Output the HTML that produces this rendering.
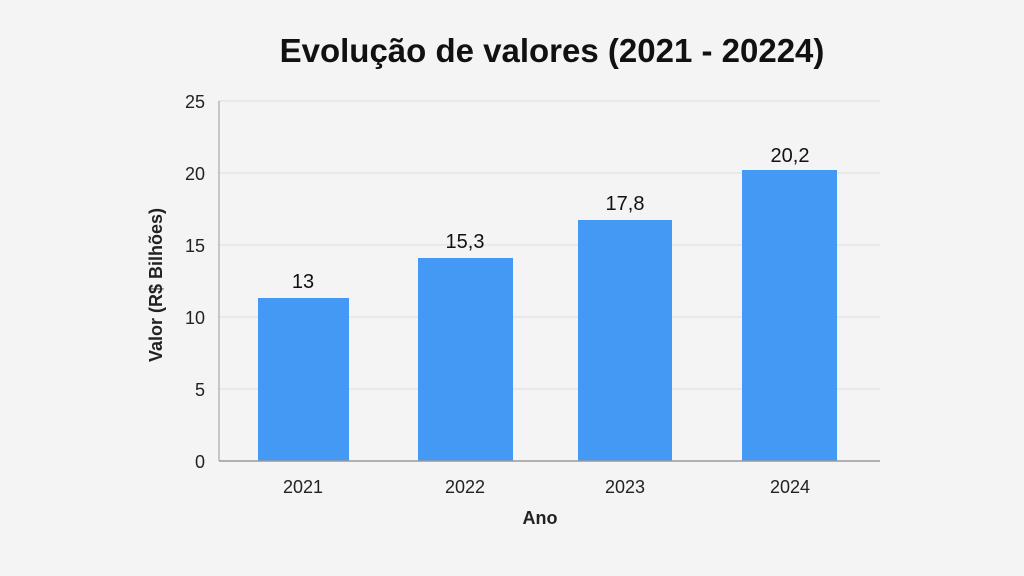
<!DOCTYPE html>
<html><head><meta charset="utf-8"><style>
html,body{margin:0;padding:0;background:#f4f4f4;}
</style></head><body>
<svg width="1024" height="576" xmlns="http://www.w3.org/2000/svg" style="display:block">
<rect width="1024" height="576" fill="#f4f4f4"/>
<text x="552" y="62" text-anchor="middle" font-family="Liberation Sans, sans-serif" font-weight="bold" font-size="33" fill="#111">Evolução de valores (2021 - 20224)</text>
<g stroke="#dedede" stroke-width="1">
<line x1="219" y1="101" x2="880" y2="101"/>
<line x1="219" y1="173" x2="880" y2="173"/>
<line x1="219" y1="245" x2="880" y2="245"/>
<line x1="219" y1="317" x2="880" y2="317"/>
<line x1="219" y1="389" x2="880" y2="389"/>
</g>
<line x1="219" y1="101" x2="219" y2="461" stroke="#999" stroke-width="1"/>
<g font-family="Liberation Sans, sans-serif" font-size="18" fill="#222" text-anchor="end">
<text x="205" y="108">25</text>
<text x="205" y="180">20</text>
<text x="205" y="252">15</text>
<text x="205" y="324">10</text>
<text x="205" y="396">5</text>
<text x="205" y="468">0</text>
</g>
<g fill="#4499f5">
<rect x="258" y="298" width="91" height="163"/>
<rect x="418" y="258" width="95" height="203"/>
<rect x="578" y="220" width="94" height="241"/>
<rect x="742" y="170" width="95" height="291"/>
</g>
<line x1="219" y1="461" x2="880" y2="461" stroke="#999" stroke-width="1.5"/>
<g font-family="Liberation Sans, sans-serif" font-size="20" fill="#111" text-anchor="middle">
<text x="303" y="288">13</text>
<text x="465" y="248">15,3</text>
<text x="625" y="210">17,8</text>
<text x="790" y="162">20,2</text>
</g>
<g font-family="Liberation Sans, sans-serif" font-size="18" fill="#222" text-anchor="middle">
<text x="303" y="493">2021</text>
<text x="465" y="493">2022</text>
<text x="625" y="493">2023</text>
<text x="790" y="493">2024</text>
</g>
<text x="540" y="524" text-anchor="middle" font-family="Liberation Sans, sans-serif" font-weight="bold" font-size="18" fill="#222">Ano</text>
<text transform="translate(162,285) rotate(-90)" text-anchor="middle" font-family="Liberation Sans, sans-serif" font-weight="bold" font-size="18" fill="#222">Valor (R$ Bilhões)</text>
</svg>
</body></html>
